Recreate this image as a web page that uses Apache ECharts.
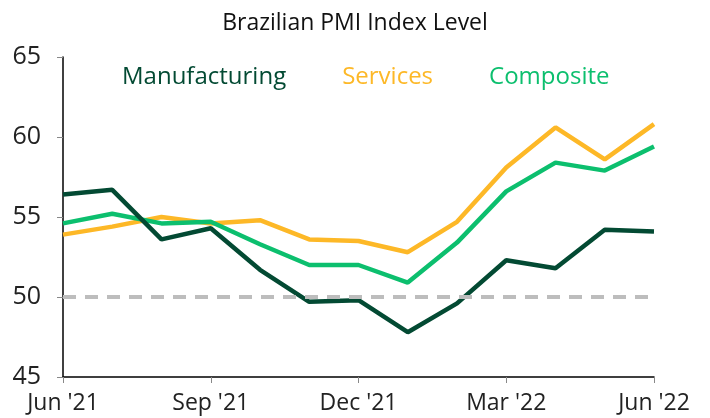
<!DOCTYPE html>
<html>
<head>
<meta charset="utf-8">
<script src="https://cdn.jsdelivr.net/npm/echarts@6/dist/echarts.min.js"></script>
</head>
<body style="margin:0; background:#fff;">
<div id="chart" style="width:710px; height:418px;"></div>
<script type="text/javascript">
	var months = ["Jun '21", "Jul '21", "Aug '21", "Sep '21", "Oct '21", "Nov '21", "Dec '21",
		"Jan '22", "Feb '22", "Mar '22", "Apr '22", "May '22", "Jun '22"];
	var manufacturing = [56.4, 56.7, 53.6, 54.3, 51.7, 49.7, 49.8, 47.8, 49.6, 52.3, 51.8, 54.2, 54.1];
	var services = [53.9, 54.4, 55.0, 54.6, 54.8, 53.6, 53.5, 52.8, 54.7, 58.1, 60.6, 58.6, 60.8];
	var composite = [54.6, 55.2, 54.6, 54.7, 53.3, 52.0, 52.0, 50.9, 53.4, 56.6, 58.4, 57.9, 59.4];
	var yTicks = [45, 50, 55, 60, 65];

	var font = 'Open Sans';
	var cDark = '#034a33', cYellow = '#fdb827', cGreen = '#0cbf6e';

	var myChart = echarts.init(document.getElementById('chart'));
	var option = {
		animation: false,
		textStyle: { fontFamily: font },
		title: {
			text: 'Brazilian PMI Index Level',
			left: 'center',
			top: 7,
			textStyle: { fontFamily: font, fontSize: 23, fontWeight: 'normal', color: '#111' }
		},
		legend: {
			top: 60,
			left: 112,
			itemWidth: 0,
			itemHeight: 0,
			itemGap: 51,
			selectedMode: false,
			data: [
				{ name: 'Manufacturing', icon: 'none', textStyle: { color: cDark } },
				{ name: 'Services', icon: 'none', textStyle: { color: cYellow } },
				{ name: 'Composite', icon: 'none', textStyle: { color: cGreen } }
			],
			textStyle: { fontFamily: font, fontSize: 24, padding: 0 }
		},
		grid: { left: 63, right: 56, top: 57, bottom: 41, containLabel: false },
		xAxis: {
			type: 'category',
			boundaryGap: false,
			data: months,
			axisLine: { lineStyle: { color: '#000', width: 1.5 } },
			axisTick: { interval: 2, length: 6, lineStyle: { color: '#888' } },
			axisLabel: { interval: 2, fontSize: 23, color: '#222', margin: 15, fontFamily: font }
		},
		yAxis: {
			type: 'value',
			min: yTicks[0],
			max: yTicks[yTicks.length - 1],
			interval: 5,
			splitLine: { show: false },
			axisLine: { show: true, lineStyle: { color: '#000', width: 1.5 } },
			axisTick: { show: true, length: 6, lineStyle: { color: '#888' } },
			axisLabel: { fontSize: 25, color: '#222', margin: 22, fontFamily: font }
		},
		series: [
			{
				name: 'Manufacturing', type: 'line', data: manufacturing, symbol: 'none',
				lineStyle: { color: cDark, width: 4.5 }, itemStyle: { color: cDark }, z: 3,
				markLine: {
					silent: true, symbol: 'none', label: { show: false },
					lineStyle: { color: '#bdbdbd', width: 4, type: [13, 9] },
					data: [{ yAxis: 50 }]
				}
			},
			{
				name: 'Services', type: 'line', data: services, symbol: 'none',
				lineStyle: { color: cYellow, width: 4.5 }, itemStyle: { color: cYellow }, z: 2
			},
			{
				name: 'Composite', type: 'line', data: composite, symbol: 'none',
				lineStyle: { color: cGreen, width: 4.5 }, itemStyle: { color: cGreen }, z: 2
			}
		]
	};
	myChart.setOption(option);
</script>
</body>
</html>
